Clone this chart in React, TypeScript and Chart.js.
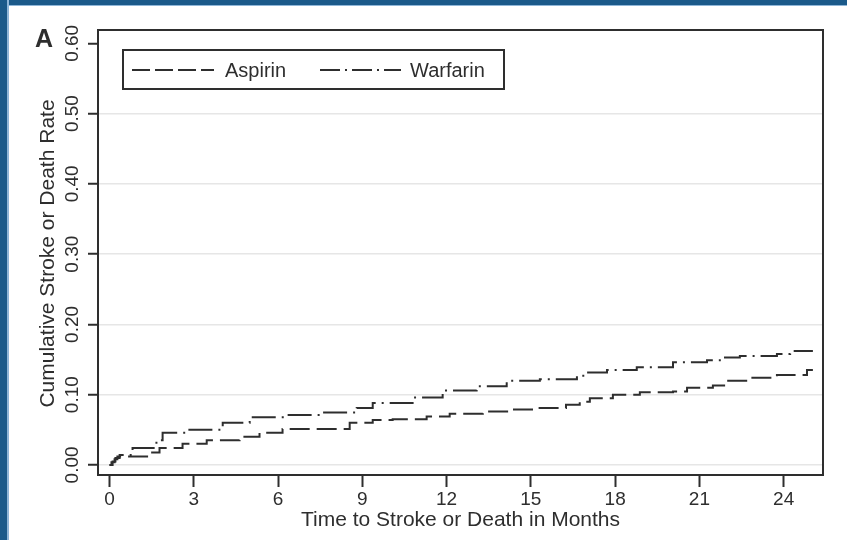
import React, { useEffect, useRef } from "react";
import { Chart, registerables } from "chart.js";

Chart.register(...registerables);

// ---- Data ----
const aspirinMonths = [0, 0.07, 0.18, 0.28, 1.43, 1.78, 2.6, 3.46, 4.63, 5.34, 6.16, 8.55, 9.37, 10.08, 11.29, 12.11, 13.29, 14.25, 15.21, 16.25, 16.74, 17.1, 17.92, 18.88, 20.06, 20.56, 21.48, 21.98, 22.8, 23.76, 24.83, 25.04];
const aspirinRates = [0, 0.004, 0.008, 0.012, 0.0176, 0.024, 0.03, 0.035, 0.04, 0.046, 0.051, 0.06, 0.064, 0.065, 0.069, 0.073, 0.076, 0.079, 0.081, 0.0855, 0.09, 0.095, 0.1, 0.1036, 0.1045, 0.11, 0.113, 0.12, 0.124, 0.128, 0.135, 0.135];

const warfarinMonths = [0, 0.11, 0.21, 0.36, 0.82, 1.67, 1.89, 2.74, 4.03, 4.99, 6.31, 7.59, 8.8, 9.37, 10.79, 11.86, 13.07, 14.14, 15.32, 16.64, 16.99, 17.71, 18.77, 20.06, 21.27, 21.84, 22.44, 23.76, 24.23, 25.04];
const warfarinRates = [0, 0.005, 0.01, 0.014, 0.024, 0.035, 0.046, 0.05, 0.06, 0.068, 0.071, 0.0746, 0.081, 0.088, 0.096, 0.106, 0.112, 0.12, 0.122, 0.127, 0.1315, 0.135, 0.139, 0.146, 0.149, 0.153, 0.155, 0.158, 0.162, 0.162];

const xTicks = [0, 3, 6, 9, 12, 15, 18, 21, 24];
const yTicks = [0, 0.1, 0.2, 0.3, 0.4, 0.5, 0.6];

const seriesNames = ["Aspirin", "Warfarin"];
const xTitle = "Time to Stroke or Death in Months";
const yTitle = "Cumulative Stroke or Death Rate";
const panelLabel = "A";

const FONT = "'Liberation Sans', Arial, Helvetica, sans-serif";
const INK = "#2e2e2e";
const aspirinDash = [20, 7];
const warfarinDash = [24, 6, 2, 6];

const decorPlugin = {
  id: "decor",
  afterDraw(chart: any) {
    const ctx = chart.ctx as CanvasRenderingContext2D;
    const area = chart.chartArea;
    const yScale = chart.scales.y;
    ctx.save();
    // plot frame
    ctx.strokeStyle = INK;
    ctx.lineWidth = 2;
    ctx.setLineDash([]);
    ctx.strokeRect(area.left, area.top, area.right - area.left, area.bottom - area.top);

    // y tick labels (rotated)
    ctx.fillStyle = INK;
    ctx.font = `19px ${FONT}`;
    ctx.textAlign = "center";
    ctx.textBaseline = "alphabetic";
    yScale.ticks.forEach((t: any) => {
      const py = yScale.getPixelForValue(t.value);
      ctx.save();
      ctx.translate(78, py);
      ctx.rotate(-Math.PI / 2);
      ctx.fillText(Number(t.value).toFixed(2), 0, 0);
      ctx.restore();
    });

    // y title
    ctx.font = `21px ${FONT}`;
    ctx.save();
    ctx.translate(54, (area.top + area.bottom) / 2 + 1);
    ctx.rotate(-Math.PI / 2);
    ctx.fillText(yTitle, 0, 0);
    ctx.restore();

    // x title
    ctx.fillText(xTitle, (area.left + area.right) / 2, 526);

    // panel label
    ctx.font = `bold 25px ${FONT}`;
    ctx.textAlign = "left";
    ctx.fillText(panelLabel, 35, 47);

    // legend
    const lx = 123, ly = 50, lw = 381, lh = 39;
    ctx.fillStyle = "#ffffff";
    ctx.fillRect(lx, ly, lw, lh);
    ctx.strokeStyle = INK;
    ctx.lineWidth = 2;
    ctx.strokeRect(lx, ly, lw, lh);
    const midY = 70;
    const samples = [
      { x0: 132, x1: 214, dash: [18, 5], tx: 225, name: seriesNames[0] },
      { x0: 320, x1: 401, dash: [20, 5, 2, 5], tx: 410, name: seriesNames[1] },
    ];
    samples.forEach((s) => {
      ctx.beginPath();
      ctx.setLineDash(s.dash);
      ctx.lineWidth = 2;
      ctx.moveTo(s.x0, midY);
      ctx.lineTo(s.x1, midY);
      ctx.stroke();
      ctx.setLineDash([]);
      ctx.fillStyle = INK;
      ctx.font = `20px ${FONT}`;
      ctx.textAlign = "left";
      ctx.textBaseline = "alphabetic";
      ctx.fillText(s.name, s.tx, 77);
    });
    ctx.restore();
  },
};

export default function App() {
  const canvasRef = useRef<HTMLCanvasElement | null>(null);

  useEffect(() => {
    document.body.style.margin = "0";
    const canvas = canvasRef.current;
    if (!canvas) return;
    const chart = new Chart(canvas, {
      type: "line",
      data: {
        datasets: [
          {
            label: seriesNames[0],
            data: aspirinMonths.map((m, i) => ({ x: m, y: aspirinRates[i] })),
            borderColor: INK,
            borderWidth: 2,
            borderDash: aspirinDash,
            pointRadius: 0,
            stepped: "before",
            fill: false,
          },
          {
            label: seriesNames[1],
            data: warfarinMonths.map((m, i) => ({ x: m, y: warfarinRates[i] })),
            borderColor: INK,
            borderWidth: 2,
            borderDash: warfarinDash,
            pointRadius: 0,
            stepped: "before",
            fill: false,
          },
        ],
      },
      options: {
        animation: false,
        responsive: false,
        maintainAspectRatio: false,
        layout: { padding: { left: 0, top: 30, right: 24, bottom: 0 } },
        plugins: {
          legend: { display: false },
          tooltip: { enabled: false },
          title: { display: false },
        },
        scales: {
          x: {
            type: "linear",
            min: -0.41,
            max: 25.4,
            afterBuildTicks: (s: any) => {
              s.ticks = xTicks.map((v) => ({ value: v }));
            },
            afterFit: (s: any) => {
              s.height = 65;
            },
            ticks: {
              font: { family: FONT, size: 19 },
              color: INK,
              padding: 1,
              maxRotation: 0,
              autoSkip: false,
              callback: (v: any) => String(v),
            },
            grid: {
              drawOnChartArea: false,
              tickLength: 12,
              tickColor: INK,
              tickWidth: 2,
            },
            border: { display: false },
          },
          y: {
            type: "linear",
            min: -0.0143,
            max: 0.619,
            afterBuildTicks: (s: any) => {
              s.ticks = yTicks.map((v) => ({ value: v }));
            },
            afterFit: (s: any) => {
              s.width = 98;
            },
            ticks: { display: false },
            grid: {
              color: (c: any) => (c.tick && c.tick.value > 0.55 ? "rgba(0,0,0,0)" : "#e6e6e6"),
              lineWidth: 1.5,
              tickLength: 10,
              tickColor: INK,
              tickWidth: 2,
            },
            border: { display: false },
          },
        },
      },
      plugins: [decorPlugin],
    } as any);
    return () => chart.destroy();
  }, []);

  return (
    <div style={{ position: "fixed", left: 0, top: 0, width: 847, height: 540, background: "#ffffff", overflow: "hidden" }}>
      <div style={{ position: "absolute", left: 0, top: 0, width: 847, height: 5, background: "#1b5a8a", borderBottom: "1px solid #8fb6d8" }} />
      <div style={{ position: "absolute", left: 0, top: 0, width: 7, height: 540, background: "#1b5a8a", borderRight: "2px solid #8fb6d8" }} />
      <canvas ref={canvasRef} width={847} height={540} style={{ position: "absolute", left: 0, top: 0, width: 847, height: 540 }} />
    </div>
  );
}
